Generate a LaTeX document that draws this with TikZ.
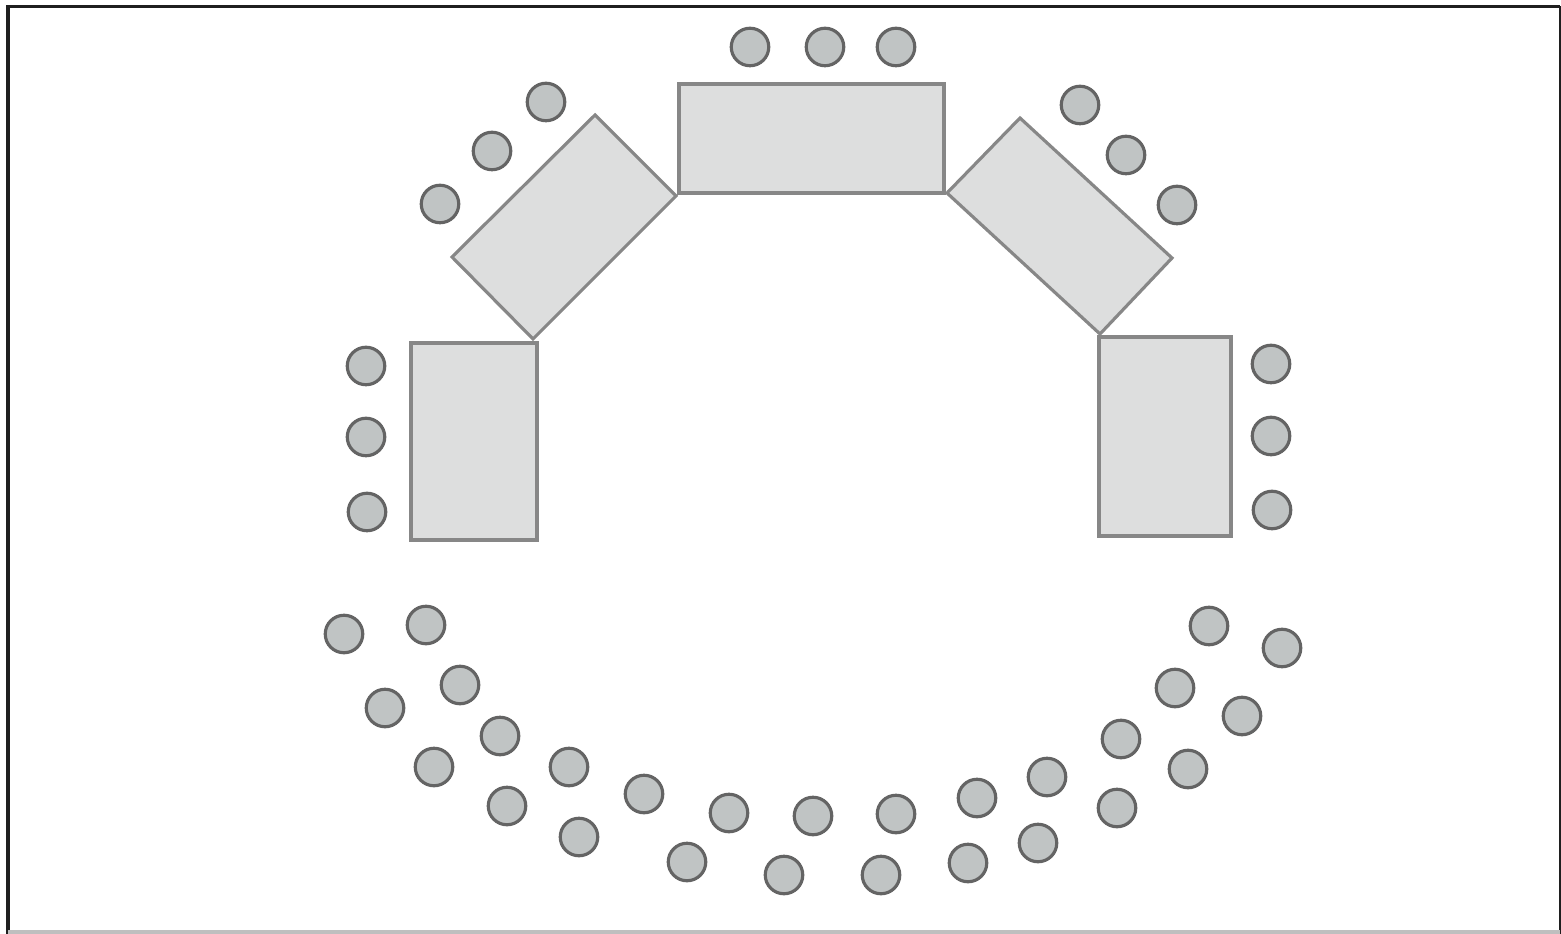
\documentclass[tikz,border=0pt]{standalone}
\usepackage{tikz}

\definecolor{chairfill}{RGB}{192,196,196}
\definecolor{chairline}{RGB}{100,100,100}
\definecolor{tablefill}{RGB}{221,222,222}
\definecolor{tableline}{RGB}{135,135,135}

\begin{document}
\begin{tikzpicture}[
  x=0.01cm, y=-0.01cm,
  chair/.style={circle, draw=chairline, fill=chairfill, line width=0.9pt,
                minimum size=0.375cm, inner sep=0pt},
  desk/.style={draw=tableline, fill=tablefill, line width=0.9pt, line join=miter}
]
\useasboundingbox (0,0) rectangle (1561,934);

% frame
\draw[line width=1.1pt, black!88] (1560,6.5) -- (8,6.5) -- (8,934);
\draw[line width=0.6pt, black!88] (1560,6.5) -- (1560,934);
\draw[line width=1.1pt, black!25] (8,932) -- (1560,932);

% tables
\draw[desk] (679,84) rectangle (944,193);
\draw[desk] (595,115) -- (676,196) -- (533,339) -- (452,257) -- cycle;
\draw[desk] (1020,118) -- (1172,258) -- (1100,334) -- (947,193) -- cycle;
\draw[desk] (411,343) rectangle (537,540);
\draw[desk] (1099,337) rectangle (1231,536);

% chairs at the tables
\foreach \x/\y [count=\i] in {750/47, 825/47, 896/47,
                              546/102, 492/151, 440/204,
                              1080/105, 1126/155, 1177/205,
                              366/366, 366/437, 367/512,
                              1271/364, 1271/436, 1272/510}
  \node[chair] (seat\i) at (\x,\y) {};

% chairs in the audience
\foreach \x/\y [count=\i] in {344/634, 426/625, 385/708, 460/685, 434/767,
                              500/736, 507/806, 569/767, 579/837, 644/794,
                              687/862, 729/813, 784/875, 813/816, 881/875,
                              896/814, 968/863, 977/798, 1038/843, 1047/777,
                              1117/808, 1121/739, 1188/769, 1175/688,
                              1242/716, 1209/626, 1282/648}
  \node[chair] (guest\i) at (\x,\y) {};
\end{tikzpicture}
\end{document}
